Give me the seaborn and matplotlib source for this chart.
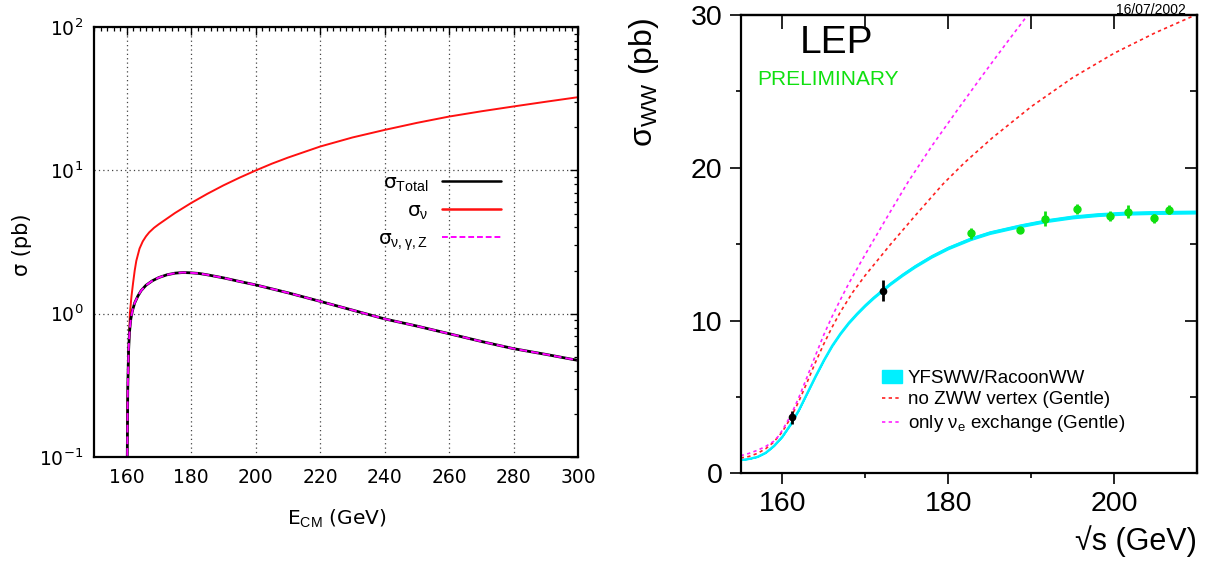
"""W-pair cross sections: nu-exchange/total curves and LEP sigma_WW measurements."""

import matplotlib
matplotlib.use("Agg")
import matplotlib.pyplot as plt
import matplotlib.ticker as mticker
from matplotlib.lines import Line2D
from matplotlib.patches import Patch
import seaborn as sns

# ---- left panel: sigma(E_CM) ----
E_NU = [160.05, 160.3, 160.6, 161.0, 161.5, 162.0, 162.5, 163.0, 164.0, 165.0,
        166.0, 167.0, 168.5, 170.0, 175.0, 180.0, 185.0, 190.0, 195.0, 200.0,
        205.0, 210.0, 220.0, 230.0, 240.0, 250.0, 260.0, 270.0, 280.0, 290.0, 300.0]
SIG_NU = [0.07, 0.25, 0.5, 1.0, 1.32, 1.64, 2.0, 2.34, 2.85, 3.2,
          3.47, 3.7, 3.98, 4.22, 5.05, 5.93, 6.87, 7.87, 8.91, 10.0,
          11.15, 12.3, 14.7, 17.0, 19.2, 21.5, 23.8, 25.9, 28.0, 30.2, 32.5]

E_TOT = [160.15, 160.35, 160.6, 160.9, 161.3, 161.8, 162.5, 163.5, 164.5, 166.0,
         168.0, 170.0, 172.5, 175.0, 177.5, 180.0, 182.5, 185.0, 190.0, 195.0,
         200.0, 210.0, 220.0, 230.0, 240.0, 250.0, 260.0, 270.0, 280.0, 290.0, 300.0]
SIG_TOT = [0.07, 0.3, 0.55, 0.75, 0.92, 1.05, 1.19, 1.33, 1.45, 1.58,
           1.70, 1.79, 1.87, 1.92, 1.94, 1.93, 1.91, 1.87, 1.78, 1.68,
           1.59, 1.40, 1.22, 1.06, 0.92, 0.82, 0.725, 0.64, 0.57, 0.52, 0.472]
# nu + gamma + Z curve lies on top of the total
SIG_NGZ = SIG_TOT

# ---- right panel: LEP sigma_WW ----
E_FIT = [155.0, 156.0, 157.0, 158.0, 159.0, 160.0, 161.0, 162.0, 163.0, 164.0,
         165.0, 166.0, 167.0, 168.0, 169.0, 170.0, 171.0, 172.0, 173.0, 174.5,
         176.0, 178.0, 180.0, 182.7, 185.0, 188.65, 192.0, 195.0, 198.0, 201.0,
         205.0, 210.0]
SIG_FIT = [0.87, 0.95, 1.08, 1.35, 1.8, 2.4, 3.2, 4.15, 5.25, 6.35,
           7.4, 8.35, 9.15, 9.85, 10.45, 11.0, 11.5, 11.95, 12.4, 13.0,
           13.55, 14.2, 14.75, 15.35, 15.75, 16.2, 16.55, 16.78, 16.93, 17.02,
           17.07, 17.1]
FIT_REL_UNC = 0.005

E_NOZWW = [155.0, 156.0, 157.0, 158.0, 159.0, 160.0, 161.0, 162.0, 163.0, 164.0,
           165.0, 166.0, 167.0, 168.5, 170.0, 173.0, 176.0, 179.4, 182.0, 185.3,
           190.0, 195.0, 200.0, 205.0, 210.0]
SIG_NOZWW = [1.0, 1.1, 1.3, 1.6, 2.05, 2.7, 3.6, 4.7, 5.95, 7.25,
             8.45, 9.55, 10.55, 11.85, 12.95, 14.95, 16.85, 18.95, 20.35, 21.95,
             24.0, 25.9, 27.5, 28.85, 30.05]

E_NUE = [155.0, 156.0, 157.0, 158.0, 159.0, 159.5, 160.0, 161.0, 162.0, 163.0,
         164.0, 165.0, 166.0, 167.0, 168.0, 169.5, 171.0, 173.0, 175.2, 178.0,
         181.0, 184.0, 187.0, 190.0]
SIG_NUE = [1.15, 1.3, 1.5, 1.75, 2.1, 2.4, 2.8, 3.75, 4.95, 6.3,
           7.7, 9.05, 10.25, 11.35, 12.4, 13.85, 15.25, 17.1, 19.1, 21.4,
           23.7, 25.95, 28.15, 30.3]

E_LOW = [161.2, 172.1]
SIG_LOW = [3.66, 11.95]
ERR_LOW = [0.42, 0.7]

E_HIGH = [182.7, 188.6, 191.6, 195.5, 199.5, 201.6, 204.8, 206.6]
SIG_HIGH = [15.71, 15.92, 16.66, 17.32, 16.86, 17.12, 16.69, 17.25]
ERR_HIGH = [0.37, 0.22, 0.48, 0.33, 0.33, 0.44, 0.3, 0.3]

sns.set_theme(style="white")
plt.rcParams["font.family"] = ["Liberation Sans", "DejaVu Sans"]
plt.rcParams["mathtext.fontset"] = "custom"
plt.rcParams["mathtext.rm"] = "Liberation Sans"
plt.rcParams["mathtext.it"] = "Liberation Sans:italic"
for key in ("text.color", "axes.labelcolor", "xtick.color", "ytick.color"):
    plt.rcParams[key] = "black"

fig = plt.figure(figsize=(12.16, 5.67), dpi=100)
fig.patch.set_facecolor("white")

# ================= left panel =================
ax = fig.add_axes([0.0776, 0.194, 0.398, 0.758])
LFONT = "DejaVu Sans"

sns.lineplot(x=E_NU, y=SIG_NU, ax=ax, color="#ff1010", lw=1.4, sort=False)
sns.lineplot(x=E_TOT, y=SIG_TOT, ax=ax, color="black", lw=2.0, sort=False)
sns.lineplot(x=E_TOT, y=SIG_NGZ, ax=ax, color="#ff00ff", lw=1.4, sort=False,
             linestyle=(0, (4, 2)))

ax.set_yscale("log")
ax.set_xlim(150, 300)
ax.set_ylim(0.1, 100)
ax.xaxis.set_major_locator(mticker.FixedLocator([160, 180, 200, 220, 240, 260, 280, 300]))
ax.xaxis.set_minor_locator(mticker.MultipleLocator(2))
ax.yaxis.set_major_locator(mticker.LogLocator(base=10))
ax.yaxis.set_minor_locator(mticker.LogLocator(base=10, subs=range(2, 10)))
ax.yaxis.set_minor_formatter(mticker.NullFormatter())
ax.grid(which="major", linestyle=(0, (1, 2.5)), color="#444444", lw=0.9)
ax.tick_params(which="both", direction="in", top=True, right=True)
ax.tick_params(which="major", length=6, width=1.0, labelsize=13.5, pad=8)
ax.tick_params(which="minor", length=3, width=0.9)
for lab in ax.get_xticklabels() + ax.get_yticklabels():
    lab.set_family(LFONT)
for s in ax.spines.values():
    s.set_linewidth(1.6)
    s.set_color("black")

ax.set_xlabel("E$_{\\mathrm{CM}}$ (GeV)", fontsize=14.5, family=LFONT)
ax.xaxis.set_label_coords(0.5, -0.118)
ax.set_ylabel("σ (pb)", fontsize=15, family=LFONT)
ax.yaxis.label.set_verticalalignment("center")
ax.yaxis.set_label_coords(-0.15, 0.493)

left_handles = [
    Line2D([], [], color="black", lw=1.8),
    Line2D([], [], color="#ff1010", lw=1.8),
    Line2D([], [], color="#ff00ff", lw=1.4, linestyle=(0, (3, 1.5))),
]
left_labels = ["σ$_{\\mathrm{Total}}$", "σ$_{\\mathrm{ν}}$", "σ$_{\\mathrm{ν,γ,Z}}$"]
ax.legend(left_handles, left_labels, loc="upper right", bbox_to_anchor=(0.8395, 0.66),
          markerfirst=False, frameon=False, borderpad=0, borderaxespad=0,
          handlelength=2.9, handletextpad=0.7, labelspacing=0.38,
          prop={"family": LFONT, "size": 14.5})

# ================= right panel =================
bx = fig.add_axes([0.6091, 0.1653, 0.3755, 0.8083])
CYAN = "#00f0ff"
GREEN = "#10e010"

lo = [v * (1 - FIT_REL_UNC) for v in SIG_FIT]
hi = [v * (1 + FIT_REL_UNC) for v in SIG_FIT]
bx.fill_between(E_FIT, lo, hi, color=CYAN, lw=1.0, edgecolor=CYAN)
sns.lineplot(x=E_FIT, y=SIG_FIT, ax=bx, color=CYAN, lw=1.4, sort=False)
sns.lineplot(x=E_NOZWW, y=SIG_NOZWW, ax=bx, color="#ff2020", lw=1.2,
             linestyle=(0, (2, 2)), sort=False)
sns.lineplot(x=E_NUE, y=SIG_NUE, ax=bx, color="#ff20ff", lw=1.2,
             linestyle=(0, (2, 2)), sort=False)

bx.errorbar(E_LOW, SIG_LOW, yerr=ERR_LOW, fmt="o", ms=4.5, color="black",
            elinewidth=2.0, capsize=0, zorder=5)
bx.errorbar(E_HIGH, SIG_HIGH, yerr=ERR_HIGH, fmt="o", ms=5, color=GREEN,
            elinewidth=2.0, capsize=0, zorder=5)

bx.set_xlim(155, 210)
bx.set_ylim(0, 30)
bx.xaxis.set_major_locator(mticker.FixedLocator([160, 180, 200]))
bx.xaxis.set_minor_locator(mticker.FixedLocator([170, 190]))
bx.yaxis.set_major_locator(mticker.FixedLocator([0, 10, 20, 30]))
bx.yaxis.set_minor_locator(mticker.FixedLocator([5, 15, 25]))
bx.tick_params(which="both", direction="out", bottom=True, left=True)
bx.tick_params(which="major", length=8, width=1.2, labelsize=20.5, pad=5)
bx.tick_params(which="minor", length=3.5, width=1.2)
for s in bx.spines.values():
    s.set_linewidth(1.6)
    s.set_color("black")

top = bx.secondary_xaxis("top")
top.xaxis.set_major_locator(mticker.FixedLocator([160, 170, 180, 190, 200]))
top.tick_params(direction="in", length=10, width=1.2, labeltop=False)
top.spines["top"].set_linewidth(1.6)
right = bx.secondary_yaxis("right")
right.yaxis.set_major_locator(mticker.FixedLocator([10, 20]))
right.yaxis.set_minor_locator(mticker.FixedLocator([5, 15, 25]))
right.tick_params(which="major", direction="in", length=9, width=1.2, labelright=False)
right.tick_params(which="minor", direction="in", length=5, width=1.2, labelright=False)
right.spines["right"].set_linewidth(1.6)

bx.set_xlabel("√s (GeV)", fontsize=22, ha="right", va="center")
bx.xaxis.set_label_coords(1.0, -0.148)
bx.set_ylabel("σ$_{\\mathrm{WW}}$ (pb)", fontsize=23, ha="right")
bx.yaxis.label.set_verticalalignment("center")
bx.yaxis.set_label_coords(-0.212, 0.9935)

bx.text(0.13, 0.917, "LEP", transform=bx.transAxes, fontsize=28, va="baseline")
bx.text(0.036, 0.847, "PRELIMINARY", transform=bx.transAxes, fontsize=15,
        color=GREEN, va="baseline")
fig.text(0.975, 0.976, "16/07/2002", fontsize=10, ha="right", va="baseline")

right_handles = [
    Patch(facecolor=CYAN, edgecolor=CYAN),
    Line2D([], [], color="#ff2020", lw=1.2, linestyle=(0, (2, 2))),
    Line2D([], [], color="#ff20ff", lw=1.2, linestyle=(0, (2, 2))),
]
right_labels = ["YFSWW/RacoonWW", "no ZWW vertex (Gentle)",
                "only ν$_{\\mathrm{e}}$ exchange (Gentle)"]
bx.legend(right_handles, right_labels, loc="upper left", bbox_to_anchor=(0.309, 0.2264),
          frameon=False, borderpad=0, borderaxespad=0, handlelength=1.1,
          handletextpad=0.3, labelspacing=0.25, prop={"size": 13.5})

fig.savefig("out.png", dpi=100, facecolor="white")
